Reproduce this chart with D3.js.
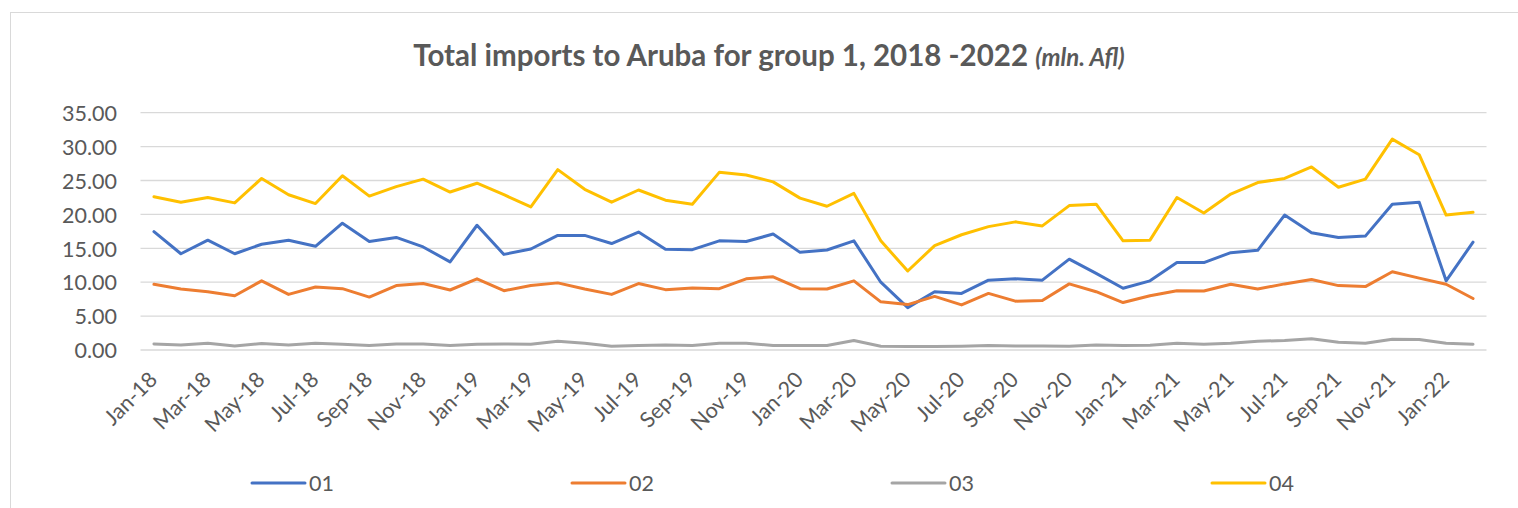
<!DOCTYPE html>
<html>
<head>
<meta charset="utf-8">
<script src="https://cdn.jsdelivr.net/npm/d3@7"></script>
<style>
  html, body { margin: 0; padding: 0; background: #ffffff; }
  svg { display: block; }
</style>
</head>
<body>
<svg id="chart" width="1518" height="508"></svg>
<script>
const months = ["Jan-18","Feb-18","Mar-18","Apr-18","May-18","Jun-18","Jul-18","Aug-18","Sep-18","Oct-18","Nov-18","Dec-18",
  "Jan-19","Feb-19","Mar-19","Apr-19","May-19","Jun-19","Jul-19","Aug-19","Sep-19","Oct-19","Nov-19","Dec-19",
  "Jan-20","Feb-20","Mar-20","Apr-20","May-20","Jun-20","Jul-20","Aug-20","Sep-20","Oct-20","Nov-20","Dec-20",
  "Jan-21","Feb-21","Mar-21","Apr-21","May-21","Jun-21","Jul-21","Aug-21","Sep-21","Oct-21","Nov-21","Dec-21",
  "Jan-22","Feb-22"];
const tickLabels = ["Jan-18","Mar-18","May-18","Jul-18","Sep-18","Nov-18","Jan-19","Mar-19","May-19","Jul-19","Sep-19","Nov-19",
  "Jan-20","Mar-20","May-20","Jul-20","Sep-20","Nov-20","Jan-21","Mar-21","May-21","Jul-21","Sep-21","Nov-21","Jan-22"];
const yTicks = [0, 5, 10, 15, 20, 25, 30, 35];
const seriesNames = ["01", "02", "03", "04"];
const s01 = [17.45,14.2,16.2,14.2,15.6,16.2,15.3,18.7,16.0,16.6, 15.2,13.0,18.4,14.1,14.9,16.9,16.9,15.7,17.4,14.85,
  14.8,16.1,16.0,17.1,14.4,14.75,16.1,10.0,6.25,8.6, 8.35,10.3,10.5,10.3,13.4,11.3,9.1,10.2,12.9,12.9,
  14.35,14.7,19.9,17.3,16.6,16.8,21.5,21.8,10.2,15.9];
const s02 = [9.7,9.0,8.6,8.0,10.2,8.2,9.3,9.05,7.8,9.5, 9.8,8.85,10.5,8.75,9.5,9.9,9.0,8.2,9.8,8.9,
  9.15,9.05,10.5,10.8,9.05,9.0,10.2,7.1,6.7,7.9, 6.65,8.35,7.2,7.3,9.75,8.6,7.0,8.0,8.75,8.7,
  9.7,9.0,9.75,10.4,9.5,9.35,11.55,10.6,9.7,7.6];
const s03 = [0.9,0.75,1.0,0.6,0.95,0.75,1.0,0.85,0.65,0.9, 0.9,0.65,0.85,0.9,0.85,1.3,1.0,0.55,0.65,0.75,
  0.65,1.0,1.0,0.65,0.65,0.65,1.4,0.55,0.5,0.5, 0.55,0.65,0.6,0.6,0.55,0.75,0.65,0.7,1.0,0.85,
  1.0,1.3,1.4,1.65,1.15,1.0,1.6,1.55,1.0,0.85];
const s04 = [22.6,21.8,22.5,21.7,25.3,22.9,21.6,25.7,22.7,24.1, 25.2,23.3,24.6,22.9,21.1,26.6,23.7,21.8,23.6,22.1,
  21.5,26.2,25.8,24.8,22.4,21.2,23.1,16.1,11.65,15.4, 17.0,18.2,18.9,18.3,21.3,21.5,16.1,16.2,22.5,20.2,
  23.0,24.7,25.3,27.0,24.0,25.2,31.1,28.8,19.9,20.3];
const colors = ["#4472C4", "#ED7D31", "#A5A5A5", "#FFC000"];

const series = [s01, s02, s03, s04].map((vals, k) => ({ name: seriesNames[k], color: colors[k], values: vals }));

const FONT = "Lato, 'Open Sans', sans-serif";
const TEXT = "#595959";
const svg = d3.select("#chart");

// chart frame
svg.append("rect").attr("x", 10.5).attr("y", 12.5).attr("width", 1530).attr("height", 520)
  .attr("fill", "none").attr("stroke", "#d9d9d9").attr("stroke-width", 1);

const plot = { left: 140.5, right: 1486.5, top: 112.7, bottom: 350 };
const x = d3.scalePoint().domain(months).range([plot.left, plot.right]).padding(0.5);
const y = d3.scaleLinear().domain([0, 35]).range([plot.bottom, plot.top]);

// gridlines
svg.append("g").selectAll("line").data(yTicks).join("line")
  .attr("x1", plot.left).attr("x2", plot.right)
  .attr("y1", d => y(d)).attr("y2", d => y(d))
  .attr("stroke", "#d9d9d9").attr("stroke-width", 1.3);

// y axis
const yAxis = svg.append("g").attr("transform", `translate(117,0)`)
  .call(d3.axisLeft(y).tickValues(yTicks).tickSize(0).tickPadding(0).tickFormat(d3.format(".2f")));
yAxis.select(".domain").remove();
yAxis.selectAll("text").attr("font-family", FONT).attr("font-size", 21.5).attr("fill", TEXT).attr("dy", "0.36em");

// x axis
const xAxis = svg.append("g").attr("transform", `translate(0,${plot.bottom})`)
  .call(d3.axisBottom(x).tickValues(tickLabels).tickSize(0));
xAxis.select(".domain").remove();
xAxis.selectAll("text")
  .attr("font-family", FONT).attr("font-size", 21.5).attr("fill", TEXT)
  .attr("text-anchor", "end").attr("y", 0).attr("dy", 0)
  .attr("transform", "translate(4,31) rotate(-45)");

// lines
const line = d3.line().x((d, i) => x(months[i])).y(d => y(d));
svg.append("g").selectAll("path").data(series).join("path")
  .attr("d", d => line(d.values))
  .attr("fill", "none").attr("stroke", d => d.color).attr("stroke-width", 3)
  .attr("stroke-linejoin", "round").attr("stroke-linecap", "round");

// title
const title = svg.append("text").attr("x", 769).attr("y", 66).attr("text-anchor", "middle")
  .attr("font-family", FONT).attr("fill", TEXT).attr("font-weight", "bold");
title.append("tspan").attr("font-size", 29.5).text("Total imports to Aruba for group 1, 2018 -2022 ");
title.append("tspan").attr("font-size", 24).attr("font-style", "italic").text("(mln. Afl)");

// legend
const legend = svg.append("g").selectAll("g").data(series).join("g")
  .attr("transform", (d, i) => `translate(${252 + i * 320},483)`);
legend.append("line").attr("x1", 0).attr("x2", 53).attr("y1", 0).attr("y2", 0)
  .attr("stroke", d => d.color).attr("stroke-width", 3).attr("stroke-linecap", "round");
legend.append("text").attr("x", 57).attr("y", 0).attr("dy", "0.36em")
  .attr("font-family", FONT).attr("font-size", 21.5).attr("fill", TEXT).text(d => d.name);
</script>
</body>
</html>
